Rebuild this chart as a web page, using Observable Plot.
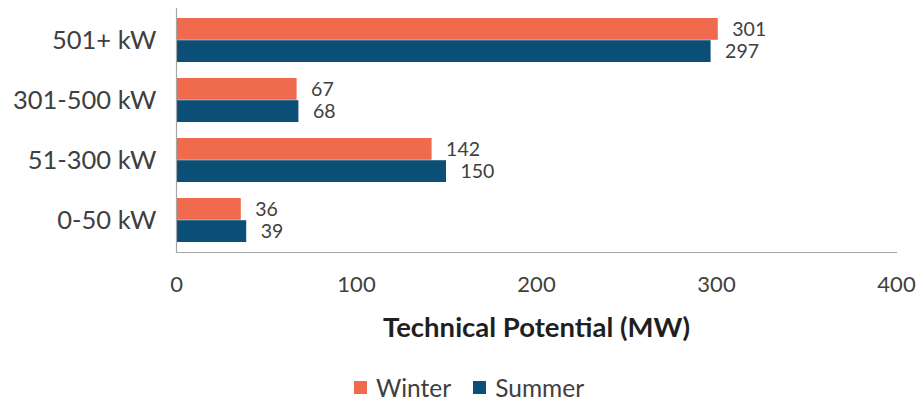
<!DOCTYPE html>
<html>
<head>
<meta charset="utf-8">
<script src="https://cdn.jsdelivr.net/npm/d3@7"></script>
<script src="https://cdn.jsdelivr.net/npm/@observablehq/plot@0.6"></script>
<style>
  html, body { margin: 0; padding: 0; background: #fff; }
  #chart { width: 922px; height: 404px; overflow: hidden; font-family: Lato, sans-serif; }
  .legend { display: flex; justify-content: center; gap: 22px; margin-top: 28px; padding-left: 16px;
            font-size: 24.5px; color: #404040; }
  .legend .item { display: flex; align-items: center; gap: 9px; }
  .legend .swatch { width: 13px; height: 13px; display: inline-block; }
</style>
</head>
<body>
<div id="chart"></div>
<script>
// Size classes and technical potential (MW) by season
const categories = ["501+ kW", "301-500 kW", "51-300 kW", "0-50 kW"];
const seasons = ["Winter", "Summer"];
const winter = [301, 67, 142, 36];
const summer = [297, 68, 150, 39];
const xTicks = [0, 100, 200, 300, 400];
const xLabel = "Technical Potential (MW)";
const seasonColors = ["#F06A4E", "#0C4F76"];

const rows = categories.flatMap((category, i) => [
  {category, season: "Winter", value: winter[i]},
  {category, season: "Summer", value: summer[i]}
]);
const winterRows = rows.filter(d => d.season === "Winter");
const summerRows = rows.filter(d => d.season === "Summer");

// Layout of the band scale, so each group can be split into two stacked bars
const marginTop = 8, marginBottom = 93, height = 345;
const paddingInner = 0.27, paddingOuter = 0.14;
const band = d3.scaleBand(categories, [marginTop, height - marginBottom])
  .paddingInner(paddingInner).paddingOuter(paddingOuter);
const half = band.bandwidth() / 2;

const chart = Plot.plot({
  width: 922,
  height,
  marginLeft: 176,
  marginRight: 26,
  marginTop,
  marginBottom,
  style: {fontFamily: "Lato, sans-serif", color: "#404040", background: "#fff"},
  x: {domain: [0, 400]},
  y: {domain: categories, paddingInner, paddingOuter},
  color: {domain: seasons, range: seasonColors},
  marks: [
    Plot.barX(winterRows, {x: "value", y: "category", fill: "season", insetBottom: half}),
    Plot.barX(summerRows, {x: "value", y: "category", fill: "season", insetTop: half}),
    Plot.text(winterRows, {x: "value", y: "category", text: d => String(d.value), dy: -half / 2, dx: 14,
      textAnchor: "start", fontSize: 19.5, fill: "#404040"}),
    Plot.text(summerRows, {x: "value", y: "category", text: d => String(d.value), dy: half / 2, dx: 14,
      textAnchor: "start", fontSize: 19.5, fill: "#404040"}),
    Plot.ruleX([0], {stroke: "#a6a6a6", strokeWidth: 1.2}),
    Plot.frame({anchor: "bottom", stroke: "#a6a6a6", strokeWidth: 1.2}),
    Plot.axisY({tickSize: 0, tickPadding: 20, fontSize: 25.5, label: null}),
    Plot.axisX({ticks: xTicks, tickSize: 0, tickPadding: 24, fontSize: 22, label: null,
      tickFormat: d => String(d)}),
    Plot.text([xLabel], {frameAnchor: "bottom", dy: 76, lineAnchor: "middle", fontSize: 27.5,
      fontWeight: "bold", fill: "#1f1f1f"})
  ]
});

const root = document.getElementById("chart");
root.appendChild(chart);

// Legend built from the chart's colour scale
const colorScale = chart.scale("color");
const legend = document.createElement("div");
legend.className = "legend";
colorScale.domain.forEach((name, i) => {
  const item = document.createElement("span");
  item.className = "item";
  const sw = document.createElement("span");
  sw.className = "swatch";
  sw.style.background = colorScale.range[i];
  const label = document.createElement("span");
  label.textContent = name;
  item.append(sw, label);
  legend.appendChild(item);
});
root.appendChild(legend);
</script>
</body>
</html>
